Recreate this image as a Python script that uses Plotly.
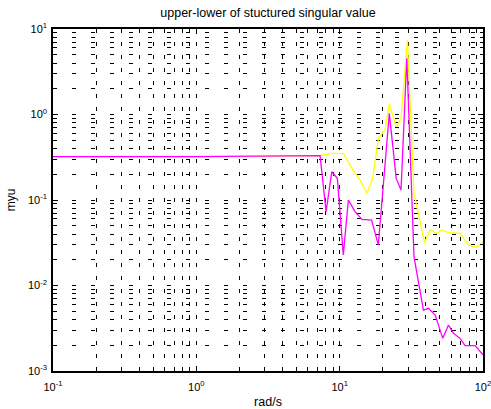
import plotly.graph_objects as go

# rad/s frequencies and structured singular value bounds
freq_upper = [0.1, 1.0, 7.3, 8.8, 10.6, 12.8, 13.9, 15.5, 17.0, 18.6, 20.7, 22.2,
              24.8, 26.8, 29.7, 33.0, 35.4, 39.0, 42.8, 47.6, 51.6, 57.4, 69.2,
              79.1, 90.6, 100.0]
mu_upper = [0.321, 0.322, 0.33, 0.351, 0.351, 0.205, 0.171, 0.120, 0.179, 0.527,
            0.659, 1.33, 0.720, 0.903, 7.43, 0.120, 0.0698, 0.0317, 0.0446, 0.0408,
            0.0446, 0.0415, 0.0408, 0.0298, 0.0280, 0.0325]

freq_lower = [0.1, 1.0, 7.3, 8.04, 8.81, 9.64, 10.6, 11.5, 12.8, 14.3, 16.7, 18.6,
              22.2, 24.8, 26.8, 29.4, 33.0, 38.4, 41.6, 46.4, 52.4, 57.4, 62.2,
              69.2, 75.0, 88.1, 100.0]
mu_lower = [0.321, 0.322, 0.33, 0.073, 0.214, 0.179, 0.0227, 0.1, 0.073, 0.0594,
            0.0583, 0.0298, 1.03, 0.179, 0.131, 4.54, 0.0217, 0.00516, 0.00541,
            0.00452, 0.00241, 0.00345, 0.00276, 0.00241, 0.00198, 0.00198, 0.00155]

x_ticks = [0.1, 1, 10, 100]
x_ticktext = ["10<sup>-1</sup>", "10<sup>0</sup>", "10<sup>1</sup>", "10<sup>2</sup>"]
y_ticks = [0.001, 0.01, 0.1, 1, 10]
y_ticktext = ["10<sup>-3</sup>", "10<sup>-2</sup>", "10<sup>-1</sup>", "10<sup>0</sup>", "10<sup>1</sup>"]

FONT = "Liberation Sans, Arial, sans-serif"

fig = go.Figure()
fig.add_trace(go.Scatter(x=freq_upper, y=mu_upper, mode="lines",
                         line=dict(color="#FFFF00", width=1.3), name="upper"))
fig.add_trace(go.Scatter(x=freq_lower, y=mu_lower, mode="lines",
                         line=dict(color="#FF00FF", width=1.3), name="lower"))

axis_common = dict(
    type="log", showline=True, linecolor="black", linewidth=1.5, mirror="ticks",
    ticks="inside", ticklen=5, tickcolor="black", tickwidth=1,
    showgrid=True, gridcolor="black", gridwidth=1, automargin=False,
    ticklabeloverflow="allow",
    zeroline=False, tickfont=dict(family=FONT, size=11, color="black"),
)

fig.update_layout(
    width=491, height=409,
    margin=dict(l=53, r=8, t=29, b=38, autoexpand=False),
    paper_bgcolor="white", plot_bgcolor="white",
    showlegend=False,
    font=dict(family=FONT, size=11, color="black"),
    title=dict(text="upper-lower of stuctured singular value", x=0.5, xref="paper",
               y=1 - 13 / 409, yref="container", yanchor="middle",
               font=dict(family=FONT, size=12.5, color="black")),
    xaxis=dict(axis_common, range=[-1, 2], tickvals=x_ticks, ticktext=x_ticktext,
               griddash="4px,9px", ticklabelstandoff=5,
               minor=dict(ticks="inside", ticklen=3, tickcolor="black", showgrid=True,
                          gridcolor="black", gridwidth=1, griddash="4px,9px",
                          dtick="D1"),
               title=dict(text="rad/s", standoff=11,
                          font=dict(family=FONT, size=12.5, color="black"))),
    yaxis=dict(axis_common, range=[-3, 1], tickvals=y_ticks, ticktext=y_ticktext,
               griddash="4px,15px", ticklabelstandoff=2,
               minor=dict(ticks="inside", ticklen=3, tickcolor="black", showgrid=True,
                          gridcolor="black", gridwidth=1, griddash="4px,15px",
                          dtick="D1"),
               title=dict(text="myu", standoff=10,
                          font=dict(family=FONT, size=12, color="black"))),
)

fig.write_html("out.html", config={"displayModeBar": False},
               post_script="document.body.style.margin='0';")
